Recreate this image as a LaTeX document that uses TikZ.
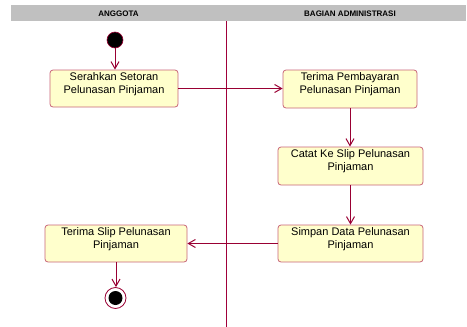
\documentclass[tikz,border=0pt]{standalone}
\usepackage{fontspec}
\setmainfont{Liberation Sans}
\usetikzlibrary{arrows.meta}
\definecolor{lanered}{HTML}{A0003A}
\definecolor{flow}{HTML}{990033}
\definecolor{boxline}{HTML}{C86478}
\definecolor{boxfill}{HTML}{FFFFCC}
\definecolor{hdr}{HTML}{C0C0C0}
\tikzset{
  act/.style={draw=boxline, fill=boxfill, rounded corners=3pt, line width=0.8pt, inner sep=0pt},
  acttext/.style={align=center, font=\fontsize{11}{13}\selectfont, inner sep=0pt},
  flowline/.style={draw=flow, line width=1pt, -{Straight Barb[length=7pt,width=8pt,line width=1pt]}},
  hdrtext/.style={font=\fontsize{8}{9}\selectfont\bfseries, inner sep=0pt}
}
\begin{document}
\begin{tikzpicture}[x=1pt,y=-1pt]
\useasboundingbox (0,0) rectangle (467,327);
% header
\fill[hdr] (11,5) rectangle (466,21);
\node[hdrtext] (h1) at (118.5,13.5) {ANGGOTA};
\node[hdrtext] (h2) at (350,13.5) {BAGIAN ADMINISTRASI};
% lane divider
\draw[lanered, line width=1pt] (226.3,21) -- (226.3,327);
% start
\node[circle, fill=black, draw=flow, line width=0.6pt, minimum size=16pt, inner sep=0pt] (start) at (115,40) {};
% activities
\node[act, minimum width=128pt, minimum height=37pt,
  label={[acttext, yshift=4.5pt]center:Serahkan Setoran\\Pelunasan Pinjaman}] (b1) at (114,88.5) {};
\node[act, minimum width=134pt, minimum height=38pt,
  label={[acttext, yshift=4.5pt]center:Terima Pembayaran\\Pelunasan Pinjaman}] (b2) at (350,89) {};
\node[act, minimum width=145pt, minimum height=38pt,
  label={[acttext, yshift=4.5pt]center:Catat Ke Slip Pelunasan\\Pinjaman}] (b3) at (350.5,166) {};
\node[act, minimum width=145pt, minimum height=37pt,
  label={[acttext, yshift=4.5pt]center:Simpan Data Pelunasan\\Pinjaman}] (b4) at (350.5,243.5) {};
\node[act, minimum width=142pt, minimum height=37pt,
  label={[acttext, yshift=4.5pt]center:Terima Slip Pelunasan\\Pinjaman}] (b5) at (116,243.5) {};
% end
\node[circle, draw=flow, line width=0.8pt, minimum size=21pt, inner sep=0pt] (end) at (115.5,298) {};
\node[circle, fill=black, minimum size=14pt, inner sep=0pt] (endin) at (end.center) {};
% flows
\draw[flowline] (start) -- (start |- b1.north);
\draw[flowline] (b1.east) -- (b2.west |- b1.east);
\draw[flowline] (b2.south) -- (b2.south |- b3.north);
\draw[flowline] (b3.south) -- (b3.south |- b4.north);
\draw[flowline] (b4.west) -- (b5.east);
\draw[flowline] (b5.south) -- (b5.south |- end.north);
\end{tikzpicture}
\end{document}
